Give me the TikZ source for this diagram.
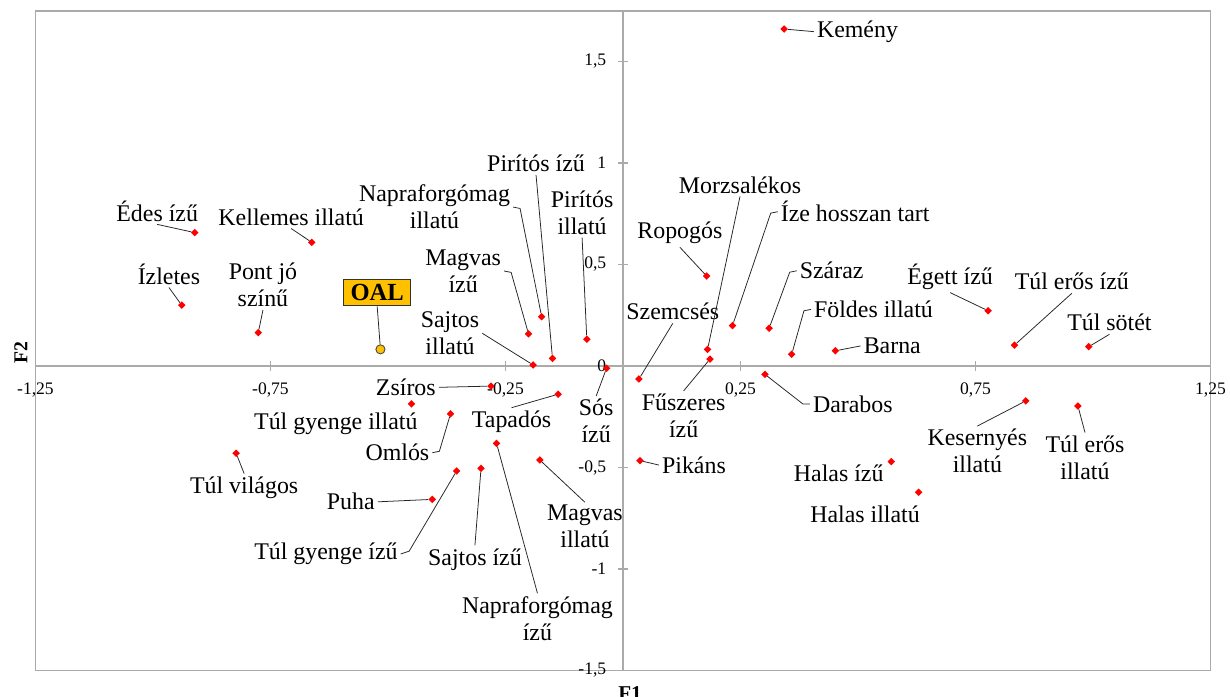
\documentclass[tikz,border=0pt]{standalone}
\usepackage{fontspec}
\setmainfont{Liberation Serif}
\usetikzlibrary{shapes.geometric}

\definecolor{oalGold}{RGB}{255,192,0}
\definecolor{axisGray}{RGB}{170,170,170}

\begin{document}
\begin{tikzpicture}[x=11.75cm, y=5.075cm]
  \tikzstyle{attrPoint} = [diamond, fill=red, inner sep=0pt, minimum size=5.5pt];
  \tikzstyle{oalPoint} = [circle, fill=oalGold, draw=black!75, line width=0.6pt, inner sep=0pt, minimum size=6.5pt];
  \tikzstyle{attrLabel} = [align=center, inner sep=2pt, font={\fontsize{17}{19.2}\selectfont}];
  \tikzstyle{oalLabel} = [draw=black!80, fill=oalGold, line width=0.7pt, inner sep=0pt, minimum width=48pt, minimum height=19pt, font={\fontsize{17.5}{19}\selectfont\bfseries}];
  \tikzstyle{leaderLine} = [black!85, line width=0.55pt];
  \tikzstyle{axisLine} = [axisGray, line width=1.3pt];
  \tikzstyle{tickLabel} = [inner sep=1pt, font={\fontsize{12.5}{14}\selectfont}];
  \tikzstyle{axisTitle} = [font={\fontsize{14}{16}\selectfont\bfseries}];

  \useasboundingbox (-1.3255,-1.6256) rectangle (1.2915,1.8030);

  % frame, axes and ticks
  \draw[axisLine] (-1.25,-1.5) rectangle (1.25,1.75);
  \draw[axisLine] (-1.25,0) -- (1.25,0) (0,-1.5) -- (0,1.75);
  \draw[axisLine, line width=1pt] (-0.75,0) ++(0pt,-3.5pt) -- ++(0pt,7pt)
        (-0.25,0) ++(0pt,-3.5pt) -- ++(0pt,7pt)
        (0.25,0) ++(0pt,-3.5pt) -- ++(0pt,7pt)
        (0.75,0) ++(0pt,-3.5pt) -- ++(0pt,7pt)
        (0,1.5) ++(-3.5pt,0pt) -- ++(7pt,0pt)
        (0,1) ++(-3.5pt,0pt) -- ++(7pt,0pt)
        (0,0.5) ++(-3.5pt,0pt) -- ++(7pt,0pt)
        (0,-0.5) ++(-3.5pt,0pt) -- ++(7pt,0pt)
        (0,-1) ++(-3.5pt,0pt) -- ++(7pt,0pt);

  \node[tickLabel] (xm125) at (-1.25,-0.118) {-1,25};
  \node[tickLabel] (xm075) at (-0.75,-0.118) {-0,75};
  \node[tickLabel] (xm025) at (-0.25,-0.118) {-0,25};
  \node[tickLabel] (xp025) at (0.25,-0.118)  {0,25};
  \node[tickLabel] (xp075) at (0.75,-0.118)  {0,75};
  \node[tickLabel] (xp125) at (1.25,-0.118)  {1,25};

  \node[tickLabel, anchor=east] (yp15) at (-0.032,1.5)  {1,5};
  \node[tickLabel, anchor=east] (yp10) at (-0.032,1)    {1};
  \node[tickLabel, anchor=east] (yp05) at (-0.032,0.5)  {0,5};
  \node[tickLabel, anchor=east] (y00)  at (-0.032,0)    {0};
  \node[tickLabel, anchor=east] (ym05) at (-0.032,-0.5) {-0,5};
  \node[tickLabel, anchor=east] (ym10) at (-0.032,-1)   {-1};
  \node[tickLabel, anchor=east] (ym15) at (-0.032,-1.5) {-1,5};

  \node[axisTitle, rotate=90] (yTitle) at (-1.281,0.064) {F2};
  \node[axisTitle, font={\fontsize{15}{17}\selectfont\bfseries}] (xTitle) at (0.015,-1.614) {F1};

  % attribute points
  \node[attrPoint] (kemeny)    at (0.343,1.660)   {};
  \node[attrPoint] (edes)      at (-0.911,0.657)  {};
  \node[attrPoint] (kellemes)  at (-0.662,0.609)  {};
  \node[attrPoint] (izletes)   at (-0.939,0.300)  {};
  \node[attrPoint] (pontjo)    at (-0.776,0.164)  {};
  \node[attrPoint] (naprIll)   at (-0.173,0.243)  {};
  \node[attrPoint] (magvIz)    at (-0.201,0.158)  {};
  \node[attrPoint] (piritIz)   at (-0.150,0.038)  {};
  \node[attrPoint] (piritIll)  at (-0.077,0.132)  {};
  \node[attrPoint] (sajtIll)   at (-0.191,0.005)  {};
  \node[attrPoint] (sos)       at (-0.035,-0.011) {};
  \node[attrPoint] (zsiros)    at (-0.281,-0.099) {};
  \node[attrPoint] (tapados)   at (-0.138,-0.139) {};
  \node[attrPoint] (gyengeIll) at (-0.450,-0.186) {};
  \node[attrPoint] (omlos)     at (-0.367,-0.236) {};
  \node[attrPoint] (vilagos)   at (-0.823,-0.430) {};
  \node[attrPoint] (naprIz)    at (-0.269,-0.381) {};
  \node[attrPoint] (magvIll)   at (-0.177,-0.463) {};
  \node[attrPoint] (sajtIz)    at (-0.302,-0.504) {};
  \node[attrPoint] (gyengeIz)  at (-0.354,-0.517) {};
  \node[attrPoint] (puha)      at (-0.406,-0.657) {};
  \node[attrPoint] (szemcses)  at (0.034,-0.064)  {};
  \node[attrPoint] (pikans)    at (0.036,-0.466)  {};
  \node[attrPoint] (fuszeres)  at (0.185,0.034)   {};
  \node[attrPoint] (morzsa)    at (0.180,0.082)   {};
  \node[attrPoint] (ropogos)   at (0.178,0.443)   {};
  \node[attrPoint] (ize)       at (0.233,0.199)   {};
  \node[attrPoint] (szaraz)    at (0.311,0.186)   {};
  \node[attrPoint] (foldes)    at (0.359,0.058)   {};
  \node[attrPoint] (darabos)   at (0.302,-0.041)  {};
  \node[attrPoint] (barna)     at (0.452,0.075)   {};
  \node[attrPoint] (egett)     at (0.777,0.272)   {};
  \node[attrPoint] (erosIz)    at (0.833,0.103)   {};
  \node[attrPoint] (sotet)     at (0.991,0.095)   {};
  \node[attrPoint] (keserny)   at (0.857,-0.172)  {};
  \node[attrPoint] (erosIll)   at (0.968,-0.197)  {};
  \node[attrPoint] (halasIz)   at (0.571,-0.471)  {};
  \node[attrPoint] (halasIll)  at (0.629,-0.622)  {};
  \node[oalPoint]  (oal)       at (-0.516,0.082)  {};

  % labels
  \node[attrLabel] (kemenyL)    at (0.499,1.647)   {Kemény};
  \node[attrLabel] (edesL)      at (-0.991,0.764)  {Édes ízű};
  \node[attrLabel] (kellemesL)  at (-0.706,0.734)  {Kellemes illatú};
  \node[attrLabel] (izletesL)   at (-0.966,0.453)  {Ízletes};
  \node[attrLabel] (pontjoL)    at (-0.766,0.399)  {Pont jó\\színű};
  \node[oalLabel]  (oalL)       at (-0.523,0.362)  {OAL};
  \node[attrLabel] (naprIllL)   at (-0.401,0.783)  {Napraforgómag\\illatú};
  \node[attrLabel] (magvIzL)    at (-0.340,0.468)  {Magvas\\ízű};
  \node[attrLabel] (piritIzL)   at (-0.185,0.998)  {Pirítós ízű};
  \node[attrLabel] (piritIllL)  at (-0.087,0.756)  {Pirítós\\illatú};
  \node[attrLabel] (sajtIllL)   at (-0.368,0.161)  {Sajtos\\illatú};
  \node[attrLabel] (sosL)       at (-0.057,-0.271) {Sós\\ízű};
  \node[attrLabel] (zsirosL)    at (-0.462,-0.105) {Zsíros};
  \node[attrLabel] (tapadosL)   at (-0.237,-0.274) {Tapadós};
  \node[attrLabel] (gyengeIllL) at (-0.611,-0.283) {Túl gyenge illatú};
  \node[attrLabel] (omlosL)     at (-0.480,-0.427) {Omlós};
  \node[attrLabel] (vilagosL)   at (-0.806,-0.599) {Túl világos};
  \node[attrLabel] (puhaL)      at (-0.579,-0.669) {Puha};
  \node[attrLabel] (gyengeIzL)  at (-0.632,-0.926) {Túl gyenge ízű};
  \node[attrLabel] (sajtIzL)    at (-0.315,-0.952) {Sajtos ízű};
  \node[attrLabel] (naprIzL)    at (-0.182,-1.243) {Napraforgómag\\ízű};
  \node[attrLabel] (magvIllL)   at (-0.081,-0.792) {Magvas\\illatú};
  \node[attrLabel] (szemcsesL)  at (0.106,0.267)   {Szemcsés};
  \node[attrLabel] (pikansL)    at (0.151,-0.488)  {Pikáns};
  \node[attrLabel] (fuszeresL)  at (0.129,-0.246)  {Fűszeres\\ízű};
  \node[attrLabel] (morzsaL)    at (0.249,0.892)   {Morzsalékos};
  \node[attrLabel] (izeL)       at (0.494,0.760)   {Íze hosszan tart};
  \node[attrLabel] (ropogosL)   at (0.121,0.654)   {Ropogós};
  \node[attrLabel] (szarazL)    at (0.444,0.469)   {Száraz};
  \node[attrLabel] (foldesL)    at (0.533,0.279)   {Földes illatú};
  \node[attrLabel] (barnaL)     at (0.573,0.099)   {Barna};
  \node[attrLabel] (darabosL)   at (0.489,-0.187)  {Darabos};
  \node[attrLabel] (egettL)     at (0.696,0.440)   {Égett ízű};
  \node[attrLabel] (erosIzL)    at (0.955,0.415)   {Túl erős ízű};
  \node[attrLabel] (sotetL)     at (1.035,0.213)   {Túl sötét};
  \node[attrLabel] (kesernyL)   at (0.754,-0.419)  {Kesernyés\\illatú};
  \node[attrLabel] (erosIllL)   at (0.983,-0.451)  {Túl erős\\illatú};
  \node[attrLabel] (halasIzL)   at (0.459,-0.529)  {Halas ízű};
  \node[attrLabel] (halasIllL)  at (0.515,-0.731)  {Halas illatú};

  % leader lines
  \draw[leaderLine] (kemeny) -- (kemenyL.west);
  \draw[leaderLine] (edesL.south) -- (edes);
  \draw[leaderLine] (kellemesL.south) -- (kellemes);
  \draw[leaderLine] (izletesL.south) -- (izletes);
  \draw[leaderLine] (pontjoL.south) -- (pontjo);
  \draw[leaderLine] (oalL.south) -- (oal);
  \draw[leaderLine] (naprIllL.east) -- ++(5pt,-1pt) -- (naprIll);
  \draw[leaderLine] (magvIzL.east) -- ++(5pt,-1pt) -- (magvIz);
  \draw[leaderLine] (piritIzL.south) -- (piritIz);
  \draw[leaderLine] (piritIllL.south) -- (piritIll);
  \draw[leaderLine] (sajtIllL.east) -- (sajtIll);
  \draw[leaderLine] (sosL.north) -- (sos);
  \draw[leaderLine] (zsirosL.east) -- (zsiros);
  \draw[leaderLine] (tapadosL.north) -- (tapados);
  \draw[leaderLine] (omlosL.east) -- ++(5pt,1pt) -- (omlos);
  \draw[leaderLine] (vilagosL.north) -- (vilagos);
  \draw[leaderLine] (puhaL.east) -- (puha);
  \draw[leaderLine] (gyengeIzL.east) -- ++(6pt,2pt) -- (gyengeIz);
  \draw[leaderLine] (sajtIzL.north) -- (sajtIz);
  \draw[leaderLine] (naprIzL.north) -- (naprIz);
  \draw[leaderLine] (magvIllL.north) -- (magvIll);
  \draw[leaderLine] (szemcsesL.south) -- (szemcses);
  \draw[leaderLine] (pikans) -- (pikansL.west);
  \draw[leaderLine] (fuszeresL.north) -- (fuszeres);
  \draw[leaderLine] (morzsaL.south) -- (morzsa);
  \draw[leaderLine] (izeL.west) -- ++(-5pt,-1pt) -- (ize);
  \draw[leaderLine] (ropogosL.south) -- (ropogos);
  \draw[leaderLine] (szarazL.west) -- ++(-5pt,-1pt) -- (szaraz);
  \draw[leaderLine] (foldesL.west) -- ++(-5pt,-1pt) -- (foldes);
  \draw[leaderLine] (barnaL.west) -- (barna);
  \draw[leaderLine] (darabosL.west) -- ++(-5pt,0pt) -- (darabos);
  \draw[leaderLine] (egettL.south) -- (egett);
  \draw[leaderLine] (erosIzL.south) -- (erosIz);
  \draw[leaderLine] (sotetL.south) -- (sotet);
  \draw[leaderLine] (kesernyL.north) -- (keserny);
  \draw[leaderLine] (erosIllL.north) -- (erosIll);
\end{tikzpicture}
\end{document}
